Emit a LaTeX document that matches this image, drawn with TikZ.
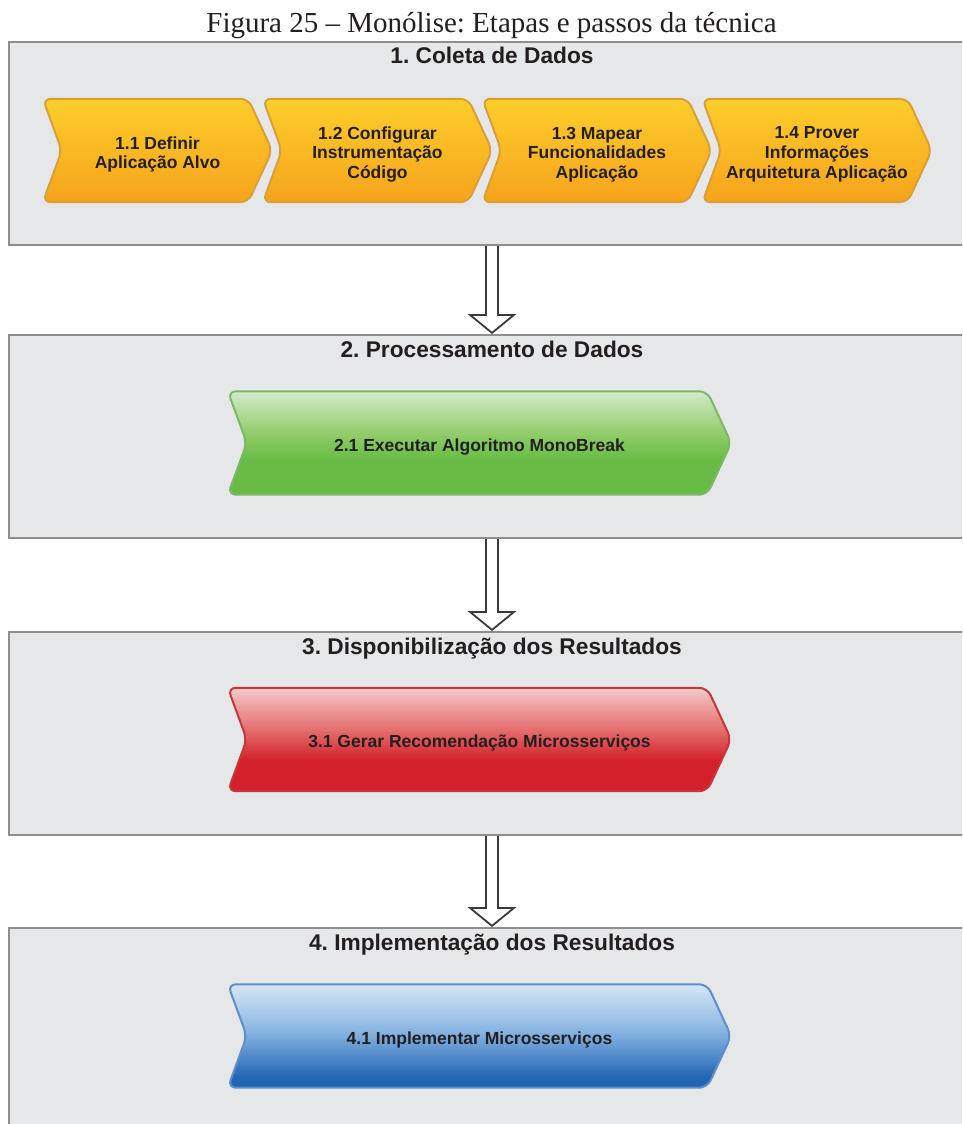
\documentclass[tikz,border=0pt]{standalone}
\usepackage{fontspec}
\setmainfont{Liberation Serif}
\newfontfamily\arialfam{Liberation Sans}
\usetikzlibrary{calc}
\frenchspacing

\definecolor{ink}{HTML}{231F20}
\definecolor{panelfill}{HTML}{E6E7E8}
\definecolor{panelline}{HTML}{8E8E90}
\definecolor{arrowline}{HTML}{3A3A3A}
% yellow steps
\definecolor{ytop}{HTML}{FDCE2B}
\definecolor{ybot}{HTML}{F6A31C}
\definecolor{yline}{HTML}{D9A03A}
% green step
\definecolor{gtop}{HTML}{D4EBCB}
\definecolor{gmid}{HTML}{8FCB68}
\definecolor{gbot}{HTML}{68BC45}
\definecolor{gline}{HTML}{7CB86A}
% red step
\definecolor{rtop}{HTML}{F5C9C9}
\definecolor{rmid}{HTML}{E46A6A}
\definecolor{rbot}{HTML}{D3202A}
\definecolor{rline}{HTML}{C4383B}
% blue step
\definecolor{btop}{HTML}{D7E7F6}
\definecolor{bmid}{HTML}{86B3E1}
\definecolor{bbot}{HTML}{2265B3}
\definecolor{bline}{HTML}{5E8ECB}

\pgfdeclareverticalshading{yshade}{100bp}{color(0bp)=(ybot); color(25bp)=(ybot); color(75bp)=(ytop); color(100bp)=(ytop)}
\pgfdeclareverticalshading{gshade}{100bp}{color(0bp)=(gbot); color(25bp)=(gbot); color(42bp)=(gbot); color(54bp)=(gmid); color(75bp)=(gtop); color(100bp)=(gtop)}
\pgfdeclareverticalshading{rshade}{100bp}{color(0bp)=(rbot); color(25bp)=(rbot); color(40bp)=(rbot); color(54bp)=(rmid); color(75bp)=(rtop); color(100bp)=(rtop)}
\pgfdeclareverticalshading{bshade}{100bp}{color(0bp)=(bbot); color(25bp)=(bbot); color(30bp)=(bbot); color(52bp)=(bmid); color(75bp)=(btop); color(100bp)=(btop)}

\pgfdeclarelayer{panel}
\pgfdeclarelayer{chev}
\pgfsetlayers{panel,chev,main}

\tikzset{
  panel/.style={draw=panelline, line width=2.2pt, fill=panelfill,
    minimum width=966pt, minimum height=203pt, inner sep=0pt},
  ptitle/.style={anchor=base, text=ink,
    font=\arialfam\bfseries\fontsize{22.7}{26}\selectfont},
  stepnode/.style={minimum height=103pt, inner sep=0pt, align=center, text=ink,
    text depth=0pt, font=\arialfam\bfseries\fontsize{17.5}{19.6}\selectfont},
  narrow/.style={stepnode, minimum width=229pt},
  wide/.style={stepnode, minimum width=503pt},
  yellowchev/.style={shade, shading=yshade, draw=yline, line width=2pt},
  greenchev/.style={shade, shading=gshade, draw=gline, line width=2pt},
  redchev/.style={shade, shading=rshade, draw=rline, line width=2pt},
  bluechev/.style={shade, shading=bshade, draw=bline, line width=2pt},
  hollow/.style={draw=arrowline, fill=white, line width=1.8pt, line join=miter}
}

% chevron outline around a step node (the label sits 2pt below the shape's middle)
\newcommand\chevronpath[2]{%
  \begin{pgfonlayer}{chev}
    \draw[#2, rounded corners=8pt] ($(#1.north west)+(0,-2)$)
      -- ($(#1.north east)+(-24,-2)$) -- ($(#1.east)+(0,-2)$)
      -- ($(#1.south east)+(-24,-2)$) -- ($(#1.south west)+(0,-2)$)
      -- ($(#1.west)+(19,-2)$) -- cycle;
  \end{pgfonlayer}}

% hollow block arrow from one panel to the next
\newcommand\blockarrow[2]{%
  \draw[hollow] ($(#1.south)+(-6,0)$) -- ($(#2.north)+(-6,-19)$)
    -- ($(#2.north)+(-22,-19)$) -- ($(#2.north)+(0,-1)$)
    -- ($(#2.north)+(22,-19)$) -- ($(#2.north)+(6,-19)$)
    -- ($(#1.south)+(6,0)$);}

\begin{document}
\begin{tikzpicture}[x=1pt,y=-1pt]

\useasboundingbox (0,0) rectangle (962,1124);

% caption
\node[anchor=base, text=ink, font=\fontsize{29}{34}\selectfont] (cap) at (491.5,32.3)
  {Figura 25 – Monólise: Etapas e passos da técnica};

% stage panels
\begin{pgfonlayer}{panel}
  \begin{scope}
    \clip (0,0) rectangle (962,1124);
    \node[panel] (b1) at (492,143.5) {};
    \node[panel] (b2) at (492,436.5) {};
    \node[panel] (b3) at (492,733.5) {};
    \node[panel] (b4) at (492,1029.5) {};
  \end{scope}
\end{pgfonlayer}

% stage titles
\node[ptitle] (h1) at ($(b1.north)+(0,22.5)$) {1. Coleta de Dados};
\node[ptitle] (h2) at ($(b2.north)+(0,24)$) {2. Processamento de Dados};
\node[ptitle] (h3) at ($(b3.north)+(0,24)$) {3. Disponibilização dos Resultados};
\node[ptitle] (h4) at ($(b4.north)+(0,24)$) {4. Implementação dos Resultados};

% steps of stage 1
\node[narrow] (s11) at (157.5,152.5) {1.1 Definir\\Aplicação Alvo};
\node[narrow] (s12) at (377.5,152.5) {1.2 Configurar\\Instrumentação\\Código};
\node[narrow] (s13) at (597,152.5) {1.3 Mapear\\Funcionalidades\\Aplicação};
\node[narrow] (s14) at (817,152.5) {1.4 Prover\\Informações\\Arquitetura Aplicação};
\chevronpath{s11}{yellowchev}
\chevronpath{s12}{yellowchev}
\chevronpath{s13}{yellowchev}
\chevronpath{s14}{yellowchev}

% steps of stages 2--4
\node[wide] (s21) at (479.5,445) {2.1 Executar Algoritmo MonoBreak};
\chevronpath{s21}{greenchev}
\node[wide] (s31) at (479.5,741.5) {3.1 Gerar Recomendação Microsserviços};
\chevronpath{s31}{redchev}
\node[wide] (s41) at (479.5,1038) {4.1 Implementar Microsserviços};
\chevronpath{s41}{bluechev}

% flow between stages
\blockarrow{b1}{b2}
\blockarrow{b2}{b3}
\blockarrow{b3}{b4}

\end{tikzpicture}
\end{document}
